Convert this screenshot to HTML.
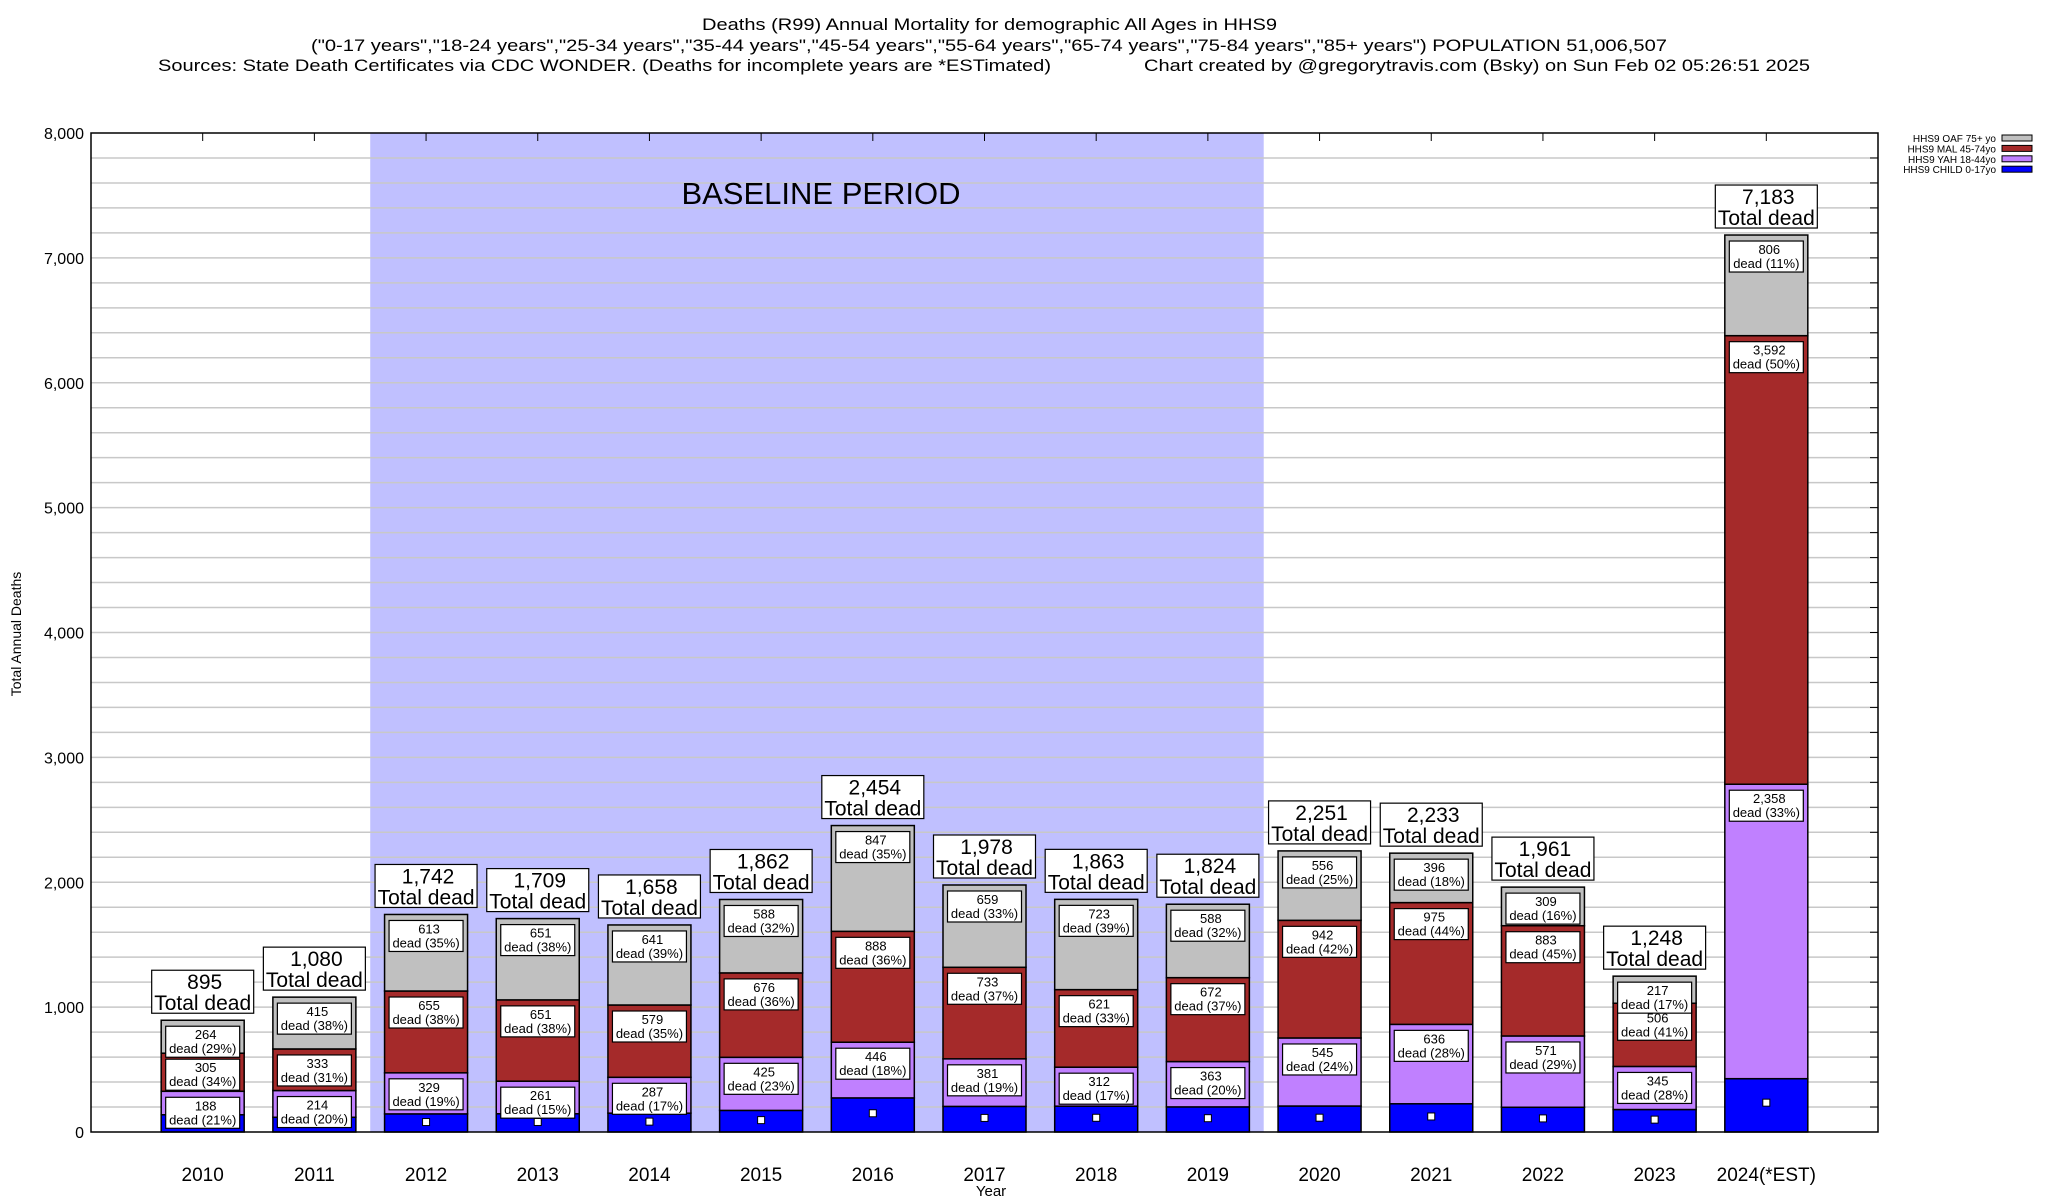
<!DOCTYPE html>
<html><head><meta charset="utf-8"><style>
html,body{margin:0;padding:0;background:#fff;}
svg{display:block;font-family:"Liberation Sans",sans-serif;}
</style></head><body>
<svg id="chart" width="2048" height="1200" viewBox="0 0 2048 1200" xmlns="http://www.w3.org/2000/svg">
<g font-size="17" fill="#000">
<text x="702" y="30" textLength="575" lengthAdjust="spacingAndGlyphs">Deaths (R99) Annual Mortality for demographic All Ages in HHS9</text>
<text x="311" y="51" textLength="1356" lengthAdjust="spacingAndGlyphs">("0-17 years","18-24 years","25-34 years","35-44 years","45-54 years","55-64 years","65-74 years","75-84 years","85+ years") POPULATION 51,006,507</text>
<text x="158" y="71" textLength="893" lengthAdjust="spacingAndGlyphs">Sources: State Death Certificates via CDC WONDER. (Deaths for incomplete years are *ESTimated)</text>
<text x="1144" y="71" textLength="666" lengthAdjust="spacingAndGlyphs">Chart created by @gregorytravis.com (Bsky) on Sun Feb 02 05:26:51 2025</text>
</g>
<g id="plot"></g>
</svg>
<script>
const years=["2010","2011","2012","2013","2014","2015","2016","2017","2018","2019","2020","2021","2022","2023","2024(*EST)"];
const child=[138,118,145,146,151,173,273,205,207,201,208,226,198,180,427];
const yah=[188,214,329,261,287,425,446,381,312,363,545,636,571,345,2358];
const mal=[305,333,655,651,579,676,888,733,621,672,942,975,883,506,3592];
const oaf=[264,415,613,651,641,588,847,659,723,588,556,396,309,217,806];
const totals=[895,1080,1742,1709,1658,1862,2454,1978,1863,1824,2251,2233,1961,1248,7183];
const yTicks=[0,1000,2000,3000,4000,5000,6000,7000,8000];
const baselineStart=2, baselineEnd=9;

const L=91,R=1878,T=133,B=1132,YMAX=8000,NS=16;
const sx=i=>L+(R-L)*(i+1)/NS;
const sy=v=>B-(B-T)*v/YMAX;
const slot=(R-L)/NS;
const NS_="http://www.w3.org/2000/svg";
const plot=document.getElementById('plot');
function mk(tag,attrs,parent,txt){const e=document.createElementNS(NS_,tag);for(const k in attrs)e.setAttribute(k,attrs[k]);if(txt!==undefined)e.textContent=txt;(parent||plot).appendChild(e);return e;}
const fmt=n=>n.toLocaleString('en-US');

let band=mk('rect',{x:sx(baselineStart)-slot/2,y:T,width:(baselineEnd-baselineStart+1)*slot,height:B-T,fill:'#c0c0ff'});


for(let v=200;v<YMAX;v+=200){
 let g=mk('line',{x1:L,x2:R,y1:sy(v),y2:sy(v),stroke:'#c8c8c8','stroke-width':1.5});
 
 
 let t=mk('line',{x1:R-8,x2:R,y1:sy(v),y2:sy(v),stroke:'#000','stroke-width':1});
 
 
}
let bt=mk('text',{x:821,y:204,'font-size':31,'text-anchor':'middle'},plot,'BASELINE PERIOD');



yTicks.forEach(v=>{
 let t=mk('text',{x:84,y:sy(v)+6,'font-size':16,'text-anchor':'end'},plot,fmt(v));
 
 
});
let yt=mk('text',{x:21,y:634,'font-size':14,'text-anchor':'middle',transform:'rotate(-90 21 634)'},plot,'Total Annual Deaths');


let xt=mk('text',{x:991,y:1196,'font-size':15,'text-anchor':'middle'},plot,'Year');



const colors=['#0000ff','#c080ff','#a52a2a','#c0c0c0'];
const segNames=['child','yah','mal','oaf'];
const bw=83;
years.forEach((yr,i)=>{
 const cx=sx(i);
 const series=[child[i],yah[i],mal[i],oaf[i]];
 let base=0;
 const tops=[];
 series.forEach((v,k)=>{
  let r=mk('rect',{x:cx-bw/2,y:sy(base+v),width:bw,height:sy(base)-sy(base+v),fill:colors[k],stroke:'#000','stroke-width':1.5});
  
  
  tops.push(sy(base+v));
  base+=v;
 });
 let m=mk('rect',{x:cx-3.5,y:sy(child[i]*0.55)-3.5,width:7,height:7,fill:'#fff',stroke:'#000','stroke-width':1});
 
 
 for(let k=1;k<4;k++){
  const v=series[k];
  const p=Math.round(v/totals[i]*100);
  const y0=tops[k]+6;
  let g=mk('g',{});
  
  
  mk('rect',{x:cx-37,y:y0,width:74,height:31,fill:'#fff',stroke:'#000','stroke-width':1.2},g);
  mk('text',{x:cx+3,y:y0+13,'font-size':13,'text-anchor':'middle'},g,fmt(v));
  mk('text',{x:cx,y:y0+27,'font-size':13,'text-anchor':'middle'},g,'dead ('+p+'%)');
 }
 const tb=sy(base)-7;
 let g=mk('g',{});
 
 
 mk('rect',{x:cx-51,y:tb-43,width:102,height:43,fill:'#fff',stroke:'#000','stroke-width':1.2},g);
 mk('text',{x:cx+2,y:tb-24,'font-size':21,'text-anchor':'middle'},g,fmt(totals[i]));
 mk('text',{x:cx,y:tb-3,'font-size':21,'text-anchor':'middle'},g,'Total dead');
 let xl=mk('text',{x:cx,y:1181,'font-size':19,'text-anchor':'middle'},plot,yr);
 
 
 let tk=mk('line',{x1:cx,x2:cx,y1:T,y2:T+8,stroke:'#000','stroke-width':1});
 
 
});
let fr=mk('rect',{x:L,y:T,width:R-L,height:B-T,fill:'none',stroke:'#000','stroke-width':1.5});



const legNames=['HHS9 OAF 75+ yo','HHS9 MAL 45-74yo','HHS9 YAH 18-44yo','HHS9 CHILD 0-17yo'];
const legColors=['#c0c0c0','#a52a2a','#c080ff','#0000ff'];
legNames.forEach((n,k)=>{
 const y=138+k*10.4;
 let g=mk('g',{});
 
 
 mk('text',{x:1996,y:y+4,'font-size':10,'text-anchor':'end'},g,n);
 mk('rect',{x:2002,y:y-3,width:30,height:6,fill:legColors[k],stroke:'#000','stroke-width':1},g);
});
</script>
</body></html>
